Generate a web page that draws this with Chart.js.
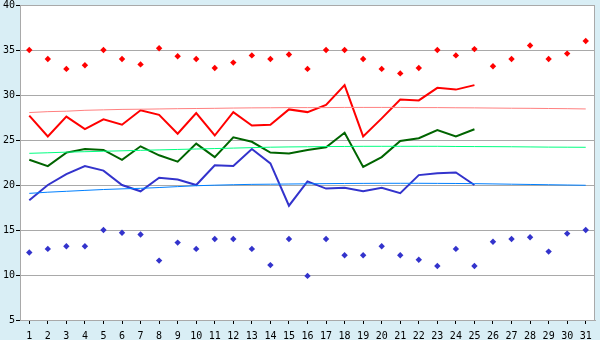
<!DOCTYPE html>
<html>
<head>
<meta charset="utf-8">
<script src="https://cdn.jsdelivr.net/npm/chart.js@4/dist/chart.umd.min.js"></script>
<style>
  html, body { margin: 0; padding: 0; background: #d9eef5; }
  #wrap { width: 600px; height: 340px; }
</style>
</head>
<body>
<div id="wrap"><canvas id="tempChart" width="600" height="340"></canvas></div>
<script>
const days = Array.from({ length: 31 }, (_, i) => String(i + 1));

const maxPoints = [35.0, 34.0, 32.9, 33.3, 35.0, 34.0, 33.4, 35.2, 34.3, 34.0,
                   33.0, 33.6, 34.4, 34.0, 34.5, 32.9, 35.0, 35.0, 34.0, 32.9,
                   32.4, 33.0, 35.0, 34.4, 35.1, 33.2, 34.0, 35.5, 34.0, 34.6, 36.0];
const minPoints = [12.5, 12.9, 13.2, 13.2, 15.0, 14.7, 14.5, 11.6, 13.6, 12.9,
                   14.0, 14.0, 12.9, 11.1, 14.0, 9.9, 14.0, 12.2, 12.2, 13.2,
                   12.2, 11.7, 11.0, 12.9, 11.0, 13.7, 14.0, 14.2, 12.6, 14.6, 15.0];

const maxLine = [27.7, 25.4, 27.6, 26.2, 27.3, 26.7, 28.3, 27.8, 25.7, 28.0,
                 25.5, 28.1, 26.6, 26.7, 28.4, 28.1, 28.9, 31.1, 25.4, 27.4,
                 29.5, 29.4, 30.8, 30.6, 31.1];
const meanLine = [22.8, 22.1, 23.6, 24.0, 23.9, 22.8, 24.3, 23.3, 22.6, 24.6,
                  23.1, 25.3, 24.8, 23.6, 23.5, 23.9, 24.2, 25.8, 22.0, 23.1,
                  24.9, 25.2, 26.1, 25.4, 26.2];
const minLine = [18.3, 20.0, 21.2, 22.1, 21.6, 20.0, 19.3, 20.8, 20.6, 20.0,
                 22.2, 22.1, 24.0, 22.4, 17.7, 20.4, 19.6, 19.7, 19.3, 19.7,
                 19.1, 21.1, 21.3, 21.4, 20.0];

const maxTrend = [28.05, 28.15, 28.2, 28.3, 28.35, 28.4, 28.42, 28.45, 28.48, 28.5,
                  28.52, 28.55, 28.57, 28.58, 28.6, 28.6, 28.6, 28.62, 28.62, 28.62,
                  28.62, 28.6, 28.6, 28.58, 28.57, 28.55, 28.53, 28.52, 28.5, 28.48, 28.45];
const meanTrend = [23.52, 23.58, 23.65, 23.7, 23.75, 23.8, 23.85, 23.9, 23.95, 24.0,
                   24.05, 24.1, 24.15, 24.2, 24.23, 24.25, 24.27, 24.28, 24.3, 24.3,
                   24.3, 24.3, 24.3, 24.28, 24.27, 24.26, 24.25, 24.23, 24.21, 24.2, 24.19];
const minTrend = [19.07, 19.2, 19.3, 19.4, 19.5, 19.57, 19.63, 19.72, 19.82, 19.92,
                  19.98, 20.03, 20.07, 20.09, 20.11, 20.13, 20.15, 20.17, 20.18, 20.19,
                  20.19, 20.19, 20.18, 20.17, 20.15, 20.12, 20.09, 20.06, 20.03, 20.0, 19.97];

const GRID = '#a9a9a9';
const FONT = { family: 'DejaVu Sans Mono', size: 10 };

// white plot area with a grey frame
const plotFrame = {
  id: 'plotFrame',
  beforeDraw(chart) {
    const { ctx, chartArea: a } = chart;
    ctx.save();
    ctx.fillStyle = '#ffffff';
    ctx.fillRect(a.left, a.top, a.right - a.left, a.bottom - a.top);
    ctx.restore();
  },
  afterDraw(chart) {
    const { ctx, chartArea: a } = chart;
    ctx.save();
    ctx.strokeStyle = GRID;
    ctx.lineWidth = 1;
    ctx.strokeRect(Math.round(a.left) + 0.5, Math.round(a.top) + 0.5,
                   Math.round(a.right - a.left) - 1, Math.round(a.bottom - a.top));
    ctx.restore();
  }
};

function trend(data, color) {
  return { data, borderColor: color, borderWidth: 1, pointRadius: 0, tension: 0, fill: false };
}
function line(data, color) {
  return { data, borderColor: color, borderWidth: 2, pointRadius: 0, tension: 0, fill: false };
}
function dots(data, color) {
  return {
    data, showLine: false, pointStyle: 'rectRot', pointRadius: 3.2,
    pointBackgroundColor: color, pointBorderColor: color, pointBorderWidth: 0
  };
}

new Chart(document.getElementById('tempChart').getContext('2d'), {
  type: 'line',
  data: {
    labels: days,
    datasets: [
      trend(maxTrend, '#ff8080'),
      trend(meanTrend, '#00ff80'),
      trend(minTrend, '#0080ff'),
      line(maxLine, '#ff0000'),
      line(meanLine, '#006400'),
      line(minLine, '#3333cc'),
      dots(maxPoints, '#ff0000'),
      dots(minPoints, '#3333cc')
    ]
  },
  plugins: [plotFrame],
  options: {
    responsive: false,
    animation: false,
    layout: { padding: { top: 5, right: 5, left: 0, bottom: 0 } },
    plugins: { legend: { display: false }, tooltip: { enabled: false } },
    scales: {
      x: {
        offset: true,
        grid: { display: true, drawOnChartArea: false, drawTicks: true, tickLength: 4, color: '#000000', offset: false },
        border: { display: true, color: GRID },
        ticks: { color: '#000000', font: FONT, padding: 6, maxRotation: 0, autoSkip: false },
        afterFit(scale) { scale.height = 20; scale.paddingLeft = 0; scale.paddingRight = 0; }
      },
      y: {
        min: 5, max: 40,
        grid: { color: GRID, tickLength: 4, tickColor: '#000000' },
        border: { display: true, color: GRID },
        ticks: { stepSize: 5, color: '#000000', font: FONT, padding: 1 },
        afterFit(scale) { scale.width = 20; scale.paddingTop = 0; scale.paddingBottom = 0; }
      }
    }
  }
});
</script>
</body>
</html>
